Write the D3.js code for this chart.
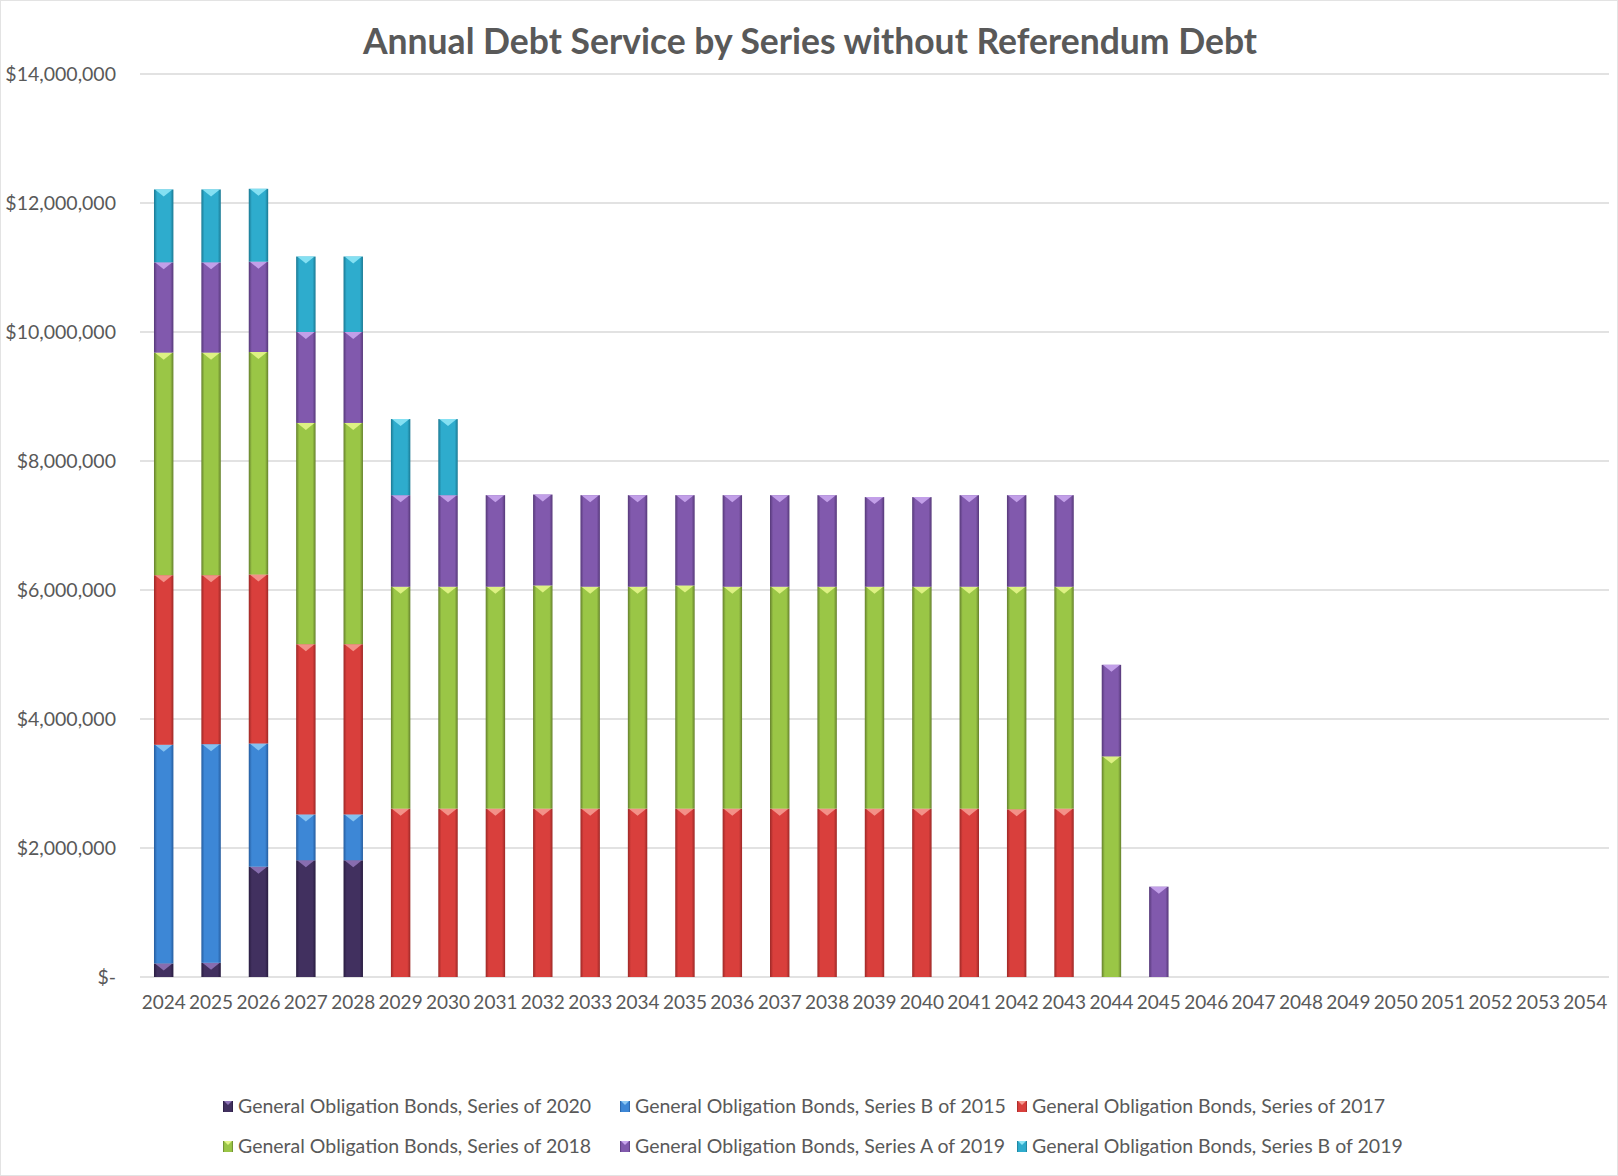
<!DOCTYPE html>
<html>
<head>
<meta charset="utf-8">
<script src="https://cdn.jsdelivr.net/npm/d3@7"></script>
<style>
  body { margin: 0; background: #fff; }
  svg { display: block; font-family: Lato, "Open Sans", sans-serif; }
</style>
</head>
<body>
<svg width="1618" height="1176"></svg>
<script>
const width = 1618;
const height = 1176;

// years on the x axis
const years = ["2024","2025","2026","2027","2028","2029","2030","2031","2032","2033",
    "2034","2035","2036","2037","2038","2039","2040","2041","2042","2043",
    "2044","2045","2046","2047","2048","2049","2050","2051","2052","2053","2054"];

// series names, bottom of stack first
const series_names = [
    "General Obligation Bonds, Series of 2020",
    "General Obligation Bonds, Series B of 2015",
    "General Obligation Bonds, Series of 2017",
    "General Obligation Bonds, Series of 2018",
    "General Obligation Bonds, Series A of 2019",
    "General Obligation Bonds, Series B of 2019"
];

// debt service per year (dollars)
const go_2020 = [210000, 220000, 1710000, 1810000, 1810000, 0, 0, 0, 0, 0,
    0, 0, 0, 0, 0, 0, 0, 0, 0, 0, 0, 0, 0, 0, 0, 0, 0, 0, 0, 0, 0];
const go_b2015 = [3390000, 3390000, 1910000, 710000, 710000, 0, 0, 0, 0, 0,
    0, 0, 0, 0, 0, 0, 0, 0, 0, 0, 0, 0, 0, 0, 0, 0, 0, 0, 0, 0, 0];
const go_2017 = [2630000, 2620000, 2620000, 2640000, 2640000, 2610000, 2610000, 2610000, 2610000, 2610000,
    2610000, 2610000, 2610000, 2610000, 2610000, 2610000, 2610000, 2610000, 2600000, 2610000,
    0, 0, 0, 0, 0, 0, 0, 0, 0, 0, 0];
const go_2018 = [3450000, 3450000, 3450000, 3430000, 3430000, 3440000, 3440000, 3440000, 3460000, 3440000,
    3440000, 3460000, 3440000, 3440000, 3440000, 3440000, 3440000, 3440000, 3450000, 3440000,
    3420000, 0, 0, 0, 0, 0, 0, 0, 0, 0, 0];
const go_a2019 = [1400000, 1400000, 1400000, 1410000, 1410000, 1420000, 1420000, 1420000, 1410000, 1420000,
    1420000, 1400000, 1420000, 1420000, 1420000, 1390000, 1390000, 1420000, 1420000, 1420000,
    1420000, 1400000, 0, 0, 0, 0, 0, 0, 0, 0, 0];
const go_b2019 = [1130000, 1130000, 1130000, 1170000, 1170000, 1180000, 1180000, 0, 0, 0,
    0, 0, 0, 0, 0, 0, 0, 0, 0, 0, 0, 0, 0, 0, 0, 0, 0, 0, 0, 0, 0];

const y_ticks = [0, 2000000, 4000000, 6000000, 8000000, 10000000, 12000000, 14000000];

// colors: edge, body, highlight
const colors = [
    ["#281c40", "#41305f", "#8f74b8"],
    ["#255c9e", "#3d87d6", "#8cc8f4"],
    ["#9c2826", "#d93f3c", "#f59a90"],
    ["#647f2c", "#9ac646", "#e4f58a"],
    ["#553878", "#8159ad", "#c9a6ee"],
    ["#1a7892", "#2eaccd", "#8ee6f6"]
];

const margin = { top: 74, right: 9, bottom: 199, left: 140 };
const plot_w = width - margin.left - margin.right;
const plot_h = height - margin.top - margin.bottom;

const svg = d3.select("svg");

// chart border
svg.append("rect")
    .attr("x", 0.5).attr("y", 0.5)
    .attr("width", width - 1).attr("height", height - 1)
    .attr("fill", "#fff")
    .attr("stroke", "#e3e3e3");

// gradients for the bevel look
const defs = svg.append("defs");
colors.forEach((c, i) => {
    const g = defs.append("linearGradient")
        .attr("id", "grad" + i)
        .attr("x1", 0).attr("x2", 1).attr("y1", 0).attr("y2", 0);
    g.append("stop").attr("offset", "0%").attr("stop-color", c[0]);
    g.append("stop").attr("offset", "16%").attr("stop-color", c[1]);
    g.append("stop").attr("offset", "84%").attr("stop-color", c[1]);
    g.append("stop").attr("offset", "100%").attr("stop-color", c[0]);
});

const g1 = svg.append("g")
    .attr("transform", `translate(${margin.left}, ${margin.top})`);

const x = d3.scaleBand()
    .domain(years)
    .range([0, plot_w])
    .paddingInner(0.59)
    .paddingOuter(0.295);

const y = d3.scaleLinear()
    .domain([0, 14000000])
    .range([plot_h, 0]);

// gridlines
g1.selectAll(".grid")
    .data(y_ticks)
    .enter()
    .append("line")
    .attr("class", "grid")
    .attr("x1", 0).attr("x2", plot_w)
    .attr("y1", d => y(d)).attr("y2", d => y(d))
    .attr("stroke", "#d9d9d9")
    .attr("stroke-width", 1.6);

// y axis labels
const fmt = d3.format(",");
const yAxis = g1.append("g")
    .attr("transform", "translate(-24, 0)")
    .call(d3.axisLeft(y).tickValues(y_ticks).tickSize(0).tickPadding(0)
        .tickFormat(d => d === 0 ? "$-" : "$" + fmt(d)));
yAxis.select(".domain").remove();
yAxis.selectAll("text")
    .attr("font-family", "Lato, sans-serif")
    .attr("font-size", "19.5px")
    .attr("fill", "#595959");

// x axis labels
const xAxis = g1.append("g")
    .attr("transform", `translate(0, ${plot_h})`)
    .call(d3.axisBottom(x).tickSize(0).tickPadding(19));
xAxis.select(".domain").remove();
xAxis.selectAll("text")
    .attr("font-family", "Lato, sans-serif")
    .attr("font-size", "19px")
    .attr("fill", "#595959");

// stack the series
const table = years.map((yr, i) => ({
    year: yr,
    s0: go_2020[i], s1: go_b2015[i], s2: go_2017[i],
    s3: go_2018[i], s4: go_a2019[i], s5: go_b2019[i]
}));
const stacked = d3.stack().keys(["s0", "s1", "s2", "s3", "s4", "s5"])(table);

const layers = g1.selectAll(".layer")
    .data(stacked)
    .enter()
    .append("g")
    .attr("class", "layer");

const segs = layers.selectAll("g")
    .data((d, i) => d.filter(p => p[1] - p[0] > 0).map(p => ({ p, i })))
    .enter()
    .append("g");

segs.append("rect")
    .attr("x", d => x(d.p.data.year))
    .attr("y", d => y(d.p[1]))
    .attr("width", x.bandwidth())
    .attr("height", d => y(d.p[0]) - y(d.p[1]))
    .attr("fill", d => `url(#grad${d.i})`);

// small highlight wedge at top of each segment
segs.append("path")
    .attr("d", d => {
        const x0 = x(d.p.data.year), w = x.bandwidth(), yt = y(d.p[1]);
        return `M${x0 + 1},${yt} L${x0 + w - 1},${yt} L${x0 + w / 2},${yt + 7} Z`;
    })
    .attr("fill", d => colors[d.i][2])
    .attr("opacity", 0.9);

// title
svg.append("text")
    .attr("x", 810)
    .attr("y", 54)
    .attr("text-anchor", "middle")
    .attr("font-family", "Lato, sans-serif")
    .attr("font-size", "35.5px")
    .attr("font-weight", "bold")
    .attr("fill", "#595959")
    .text("Annual Debt Service by Series without Referendum Debt");

// legend
const legend_pos = [[223, 1107], [620, 1107], [1017, 1107], [223, 1147], [620, 1147], [1017, 1147]];
series_names.forEach((name, i) => {
    const lg = svg.append("g")
        .attr("transform", `translate(${legend_pos[i][0]}, ${legend_pos[i][1]})`);
    lg.append("rect")
        .attr("x", 0).attr("y", -6)
        .attr("width", 10).attr("height", 11)
        .attr("fill", `url(#grad${i})`);
    lg.append("path")
        .attr("d", "M1,-6 L9,-6 L5,-2 Z")
        .attr("fill", colors[i][2]);
    lg.append("text")
        .attr("x", 15)
        .attr("y", 6)
        .attr("font-family", "Lato, sans-serif")
        .attr("font-size", "19.5px")
        .attr("fill", "#595959")
        .text(name);
});
</script>
</body>
</html>
